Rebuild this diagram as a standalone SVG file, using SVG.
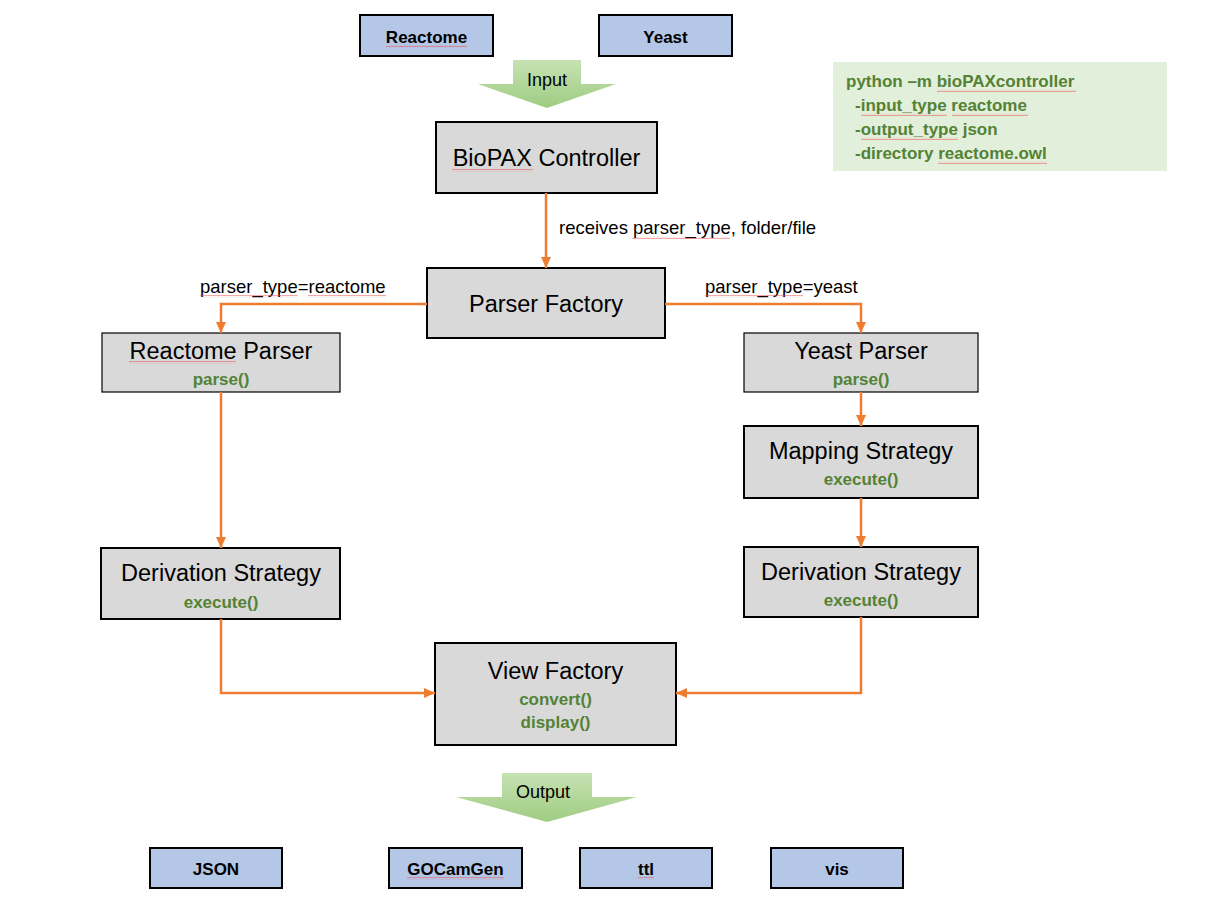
<svg xmlns="http://www.w3.org/2000/svg" width="1213" height="899" viewBox="0 0 1213 899">
<style>
text{font-family:"Liberation Sans",Arial,sans-serif;fill:#000}
.node{fill:#d9d9d9;stroke:#000;stroke-width:2}
.thin{stroke-width:1.2}
.blue{fill:#b4c7e7;stroke:#000;stroke-width:2}
.title{font-size:23.5px;text-anchor:middle}
.meth{font-size:17px;font-weight:bold;fill:#548235;text-anchor:middle}
.lbl{font-size:17px;font-weight:bold;text-anchor:middle}
.edge{fill:none;stroke:#ed7d31;stroke-width:2.5}
.elbl{font-size:18.5px}
.code{font-size:17px;font-weight:bold;fill:#548235}
.big{fill:url(#g)}
.arrtxt{font-size:18px;text-anchor:middle}
.sq{fill:url(#wave)}
</style>
<defs>
<marker id="ah" markerUnits="userSpaceOnUse" markerWidth="12" markerHeight="12" viewBox="0 0 12 12" refX="11" refY="6" orient="auto">
<path d="M0,1 L11,6 L0,11 Z" fill="#ed7d31"/>
</marker>
<linearGradient id="g" x1="0" y1="0" x2="0" y2="1">
<stop offset="0" stop-color="#c6e2b3"/>
<stop offset="1" stop-color="#9fcc82"/>
</linearGradient>
<pattern id="wave" patternUnits="userSpaceOnUse" width="4" height="3">
<polyline points="0,2.2 1,0.8 2,2.2 3,0.8 4,2.2" fill="none" stroke="#e85050" stroke-width="0.5"/>
</pattern>
</defs>

<g id="input-reactome"><rect class="blue" x="360" y="15" width="133" height="41"/><text class="lbl" x="426.5" y="43">Reactome</text></g>
<g id="input-yeast"><rect class="blue" x="599" y="15" width="133" height="41"/><text class="lbl" x="665.5" y="43">Yeast</text></g>

<g id="input-arrow"><path class="big" d="M513,60 H581 V84 H616 L547,108 L478,84 H513 Z"/><text class="arrtxt" x="547" y="86">Input</text></g>

<g id="cmd"><rect x="833" y="62" width="334" height="109" fill="#e2efda"/>
<text class="code" x="846" y="87">python –m bioPAXcontroller</text>
<text class="code" x="855" y="111">-input_type reactome</text>
<text class="code" x="855" y="135">-output_type json</text>
<text class="code" x="855" y="159">-directory reactome.owl</text></g>

<g id="biopax-controller"><rect class="node" x="436" y="122" width="221" height="71"/><text class="title" x="546.5" y="166">BioPAX Controller</text></g>
<g id="parser-factory"><rect class="node" x="427" y="268" width="238" height="70"/><text class="title" x="546" y="312">Parser Factory</text></g>
<g id="reactome-parser"><rect class="node thin" x="102" y="333" width="238" height="59"/><text class="title" x="221" y="359">Reactome Parser</text><text class="meth" x="221" y="385">parse()</text></g>
<g id="yeast-parser"><rect class="node thin" x="744" y="333" width="234" height="59"/><text class="title" x="861" y="359">Yeast Parser</text><text class="meth" x="861" y="385">parse()</text></g>
<g id="mapping-strategy"><rect class="node" x="744" y="426" width="234" height="72"/><text class="title" x="861" y="459">Mapping Strategy</text><text class="meth" x="861" y="485">execute()</text></g>
<g id="derivation-left"><rect class="node" x="101" y="548" width="239" height="71"/><text class="title" x="221" y="581">Derivation Strategy</text><text class="meth" x="221" y="608">execute()</text></g>
<g id="derivation-right"><rect class="node" x="744" y="547" width="234" height="70"/><text class="title" x="861" y="580">Derivation Strategy</text><text class="meth" x="861" y="606">execute()</text></g>
<g id="view-factory"><rect class="node" x="435" y="643" width="241" height="102"/><text class="title" x="555.5" y="679">View Factory</text><text class="meth" x="555.5" y="705">convert()</text><text class="meth" x="555.5" y="728">display()</text></g>

<g id="output-arrow"><path class="big" d="M502,773 H592 V797 H637 L547,822 L456,797 H502 Z"/><text class="arrtxt" x="543" y="798">Output</text></g>

<g id="out-json"><rect class="blue" x="150" y="848" width="132" height="40"/><text class="lbl" x="216" y="875">JSON</text></g>
<g id="out-gocamgen"><rect class="blue" x="389" y="848" width="133" height="40"/><text class="lbl" x="455.5" y="875">GOCamGen</text></g>
<g id="out-ttl"><rect class="blue" x="580" y="848" width="132" height="40"/><text class="lbl" x="646" y="875">ttl</text></g>
<g id="out-vis"><rect class="blue" x="771" y="848" width="132" height="40"/><text class="lbl" x="837" y="875">vis</text></g>

<g id="connectors">
<path class="edge" marker-end="url(#ah)" d="M546,193 V268"/>
<path class="edge" marker-end="url(#ah)" d="M427,304 H221 V333"/>
<path class="edge" marker-end="url(#ah)" d="M665,304 H861 V333"/>
<path class="edge" marker-end="url(#ah)" d="M221,392 V548"/>
<path class="edge" marker-end="url(#ah)" d="M861,392 V426"/>
<path class="edge" marker-end="url(#ah)" d="M861,498 V547"/>
<path class="edge" marker-end="url(#ah)" d="M221,619 V693 H435"/>
<path class="edge" marker-end="url(#ah)" d="M861,617 V693 H676"/>
<text class="elbl" x="559" y="234">receives parser_type, folder/file</text>
<text class="elbl" x="200" y="293">parser_type=reactome</text>
<text class="elbl" x="705" y="293">parser_type=yeast</text>
</g>

<g id="spellcheck">
<rect class="sq" x="386" y="45" width="81" height="3"/>
<rect class="sq" x="452" y="169" width="81" height="3"/>
<rect class="sq" x="937" y="89" width="139" height="3"/>
<rect class="sq" x="861" y="113" width="86" height="3"/>
<rect class="sq" x="952" y="113" width="76" height="3"/>
<rect class="sq" x="861" y="137" width="97" height="3"/>
<rect class="sq" x="938" y="161" width="109" height="3"/>
<rect class="sq" x="632" y="236" width="98" height="3"/>
<rect class="sq" x="200" y="295" width="98" height="3"/>
<rect class="sq" x="308" y="295" width="78" height="3"/>
<rect class="sq" x="705" y="295" width="98" height="3"/>
<rect class="sq" x="129" y="361" width="107" height="3"/>
<rect class="sq" x="407" y="877" width="97" height="3"/>
<rect class="sq" x="638" y="877" width="16" height="3"/>
</g>
</svg>
